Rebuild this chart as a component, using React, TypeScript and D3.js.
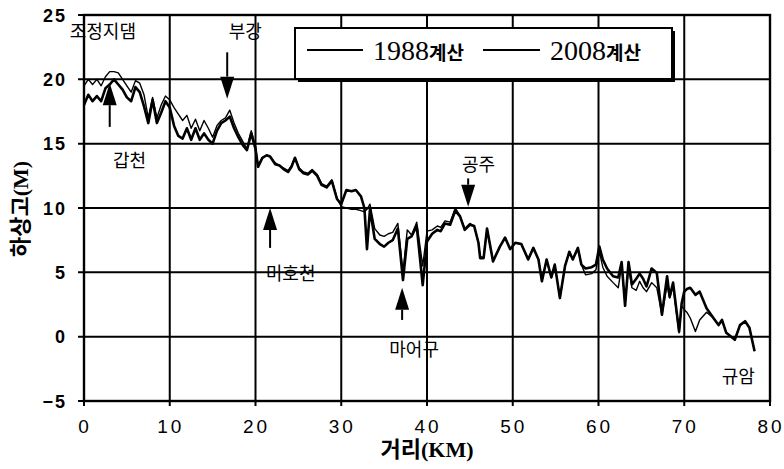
import React from 'react';
import * as d3 from 'd3';

// distance along the river (km)
const distance = [
  0, 0.5, 1, 1.5, 2, 2.5, 3, 3.5, 4, 4.5, 5, 5.5, 6, 6.5, 7, 7.5, 8, 8.5, 9, 9.5,
  10, 10.5, 11, 11.5, 12, 12.5, 13, 13.5, 14, 14.5, 15, 15.5, 16, 16.5, 17, 17.5, 18, 18.5, 19, 19.5,
  20, 20.3, 20.8, 21.3, 21.7, 22.3, 22.8, 23.3, 23.8, 24.2, 24.6, 25.1, 25.6, 26.1, 26.6, 27.2, 27.7, 28.3, 28.9, 29.5,
  30, 30.6, 31.2, 31.7, 32.3, 32.7, 33, 33.35, 33.9, 34.5, 35, 35.5, 36, 36.6, 37.2, 37.7, 38.2, 38.8, 39.5,
  40, 40.6, 41.2, 41.6, 42.1, 42.7, 43.3, 43.85, 44.4, 45, 45.5, 46, 46.2, 46.6, 47, 47.7, 48.5, 49.1, 49.7,
  50.3, 51, 51.8, 52.4, 53, 53.4, 53.95, 54.5, 54.9, 55.5, 56.1, 56.6, 57, 57.6, 58, 58.5, 59.2, 59.7,
  60.1, 60.5, 61, 61.7, 62.3, 62.7, 63.1, 63.5, 63.9, 64.4, 64.8, 65.2, 65.6, 66.2, 66.8, 67.4, 68, 68.3, 68.7, 69.1, 69.4, 69.7,
  70, 70.3, 70.7, 71.3, 71.8, 72.6, 73.4, 74, 74.4, 74.9, 75.9, 76.5, 77.1, 77.6, 78.2,
];

// bed elevation, 1988 calculation (m)
const bed1988 = [
  19.5, 20.0, 19.6, 20.0, 19.5, 20.2, 20.6, 20.6, 20.5, 20.0, 19.5, 19.0, 19.9, 19.7, 18.8, 17.0, 18.6, 17.0, 18.0, 18.7,
  18.4, 17.8, 17.3, 16.8, 17.2, 16.2, 16.9, 16.0, 16.8, 16.2, 15.5, 16.4, 16.8, 17.0, 17.6, 16.6, 15.8, 15.2, 14.6, 16.0,
  14.8, 13.3, 13.9, 14.1, 14.0, 13.5, 13.3, 13.1, 12.9, 13.3, 13.9, 13.1, 12.8, 12.7, 13.0, 12.6, 11.9, 11.7, 12.2, 10.8,
  10.1, 10.0, 9.9, 9.9, 9.8, 9.7, 9.9, 10.3, 8.4, 7.9, 7.8, 8.0, 8.1, 8.8, 5.0, 8.3, 7.9, 8.9, 5.5,
  8.2, 8.3, 8.6, 8.5, 9.0, 8.9, 10.0, 9.4, 8.4, 8.8, 8.6, 7.3, 6.2, 6.2, 8.4, 5.9, 7.0, 7.7, 6.8,
  7.3, 7.15, 6.0, 6.9, 6.0, 4.3, 6.0, 4.6, 5.6, 3.0, 5.5, 6.6, 6.0, 6.9, 5.6, 4.8, 4.9, 5.2,
  6.6, 5.4, 4.7, 4.2, 3.8, 5.5, 2.6, 5.4, 3.8, 3.6, 4.3, 3.8, 3.5, 4.2, 3.8, 1.7, 4.0, 3.0, 3.9, 1.8, 0.3, 2.4,
  2.1, 1.9, 1.45, 0.4, 1.3, 1.9, 1.45, 0.9, 1.3, 0.3, -0.24, 0.9, 1.2, 0.7, -1.13,
];

// bed elevation, 2008 calculation (m)
const bed2008 = [
  18.0, 18.8, 18.3, 18.7, 18.3, 19.3, 19.6, 20.0, 19.6, 19.2, 18.6, 18.3, 19.4, 19.0, 17.9, 16.6, 18.4, 16.6, 17.4, 18.3,
  17.8, 16.4, 15.6, 15.4, 16.2, 15.3, 16.2, 15.3, 15.8, 15.3, 15.0, 16.0, 16.6, 16.8, 17.1, 16.2, 15.5, 14.9, 14.5, 15.8,
  14.6, 13.2, 13.9, 14.1, 14.0, 13.4, 13.3, 13.0, 12.8, 13.2, 13.9, 13.0, 12.7, 12.6, 12.9, 12.5, 11.8, 11.6, 12.1, 10.7,
  10.3, 11.4, 11.3, 11.4, 10.9, 10.0, 6.8, 9.9, 7.6, 7.2, 7.0, 7.3, 7.5, 8.4, 4.4, 7.6, 7.8, 8.6, 4.0,
  7.4, 8.0, 8.3, 8.2, 8.8, 8.7, 9.8, 9.35, 8.3, 8.7, 8.6, 7.3, 6.1, 6.1, 8.4, 5.85, 7.0, 7.7, 6.8,
  7.3, 7.2, 6.0, 6.9, 6.0, 4.3, 6.0, 4.6, 5.6, 3.0, 5.5, 6.6, 6.0, 6.9, 5.6, 5.3, 5.4, 5.6,
  7.0, 6.0, 5.3, 4.7, 4.6, 5.8, 2.4, 5.8, 4.05, 4.5, 4.9, 4.5, 3.9, 5.3, 4.95, 1.7, 4.7, 3.1, 4.2, 2.0, 0.4, 2.6,
  3.5, 3.7, 3.8, 3.25, 3.5, 2.2, 1.45, 0.9, 1.3, 0.3, -0.24, 0.9, 1.2, 0.7, -1.13,
];

const xTicks = [0, 10, 20, 30, 40, 50, 60, 70, 80];
const yTicks = [-5, 0, 5, 10, 15, 20, 25];

// place labels along the river: [name, km, elevation at label]
const placeLabels: [string, number, number][] = [
  ['조정지댐', 2.2, 23.2],
  ['부강', 18.8, 23.2],
  ['갑천', 5.3, 13.2],
  ['미호천', 24.1, 4.4],
  ['공주', 46.0, 12.9],
  ['마어구', 38.5, -1.5],
  ['규암', 76.3, -3.6],
];

// arrows: [km, tip elevation, tail elevation]
const arrows: [number, number, number][] = [
  [16.7, 18.5, 22.1],
  [3.0, 19.7, 16.3],
  [21.7, 10.0, 6.9],
  [44.8, 10.1, 12.3],
  [37.1, 3.8, 1.3],
];

const W = 784;
const H = 469;
const margin = { top: 15, right: 14, bottom: 68, left: 84 };

export default function App() {
  const x = d3.scaleLinear().domain([0, 80]).range([margin.left, W - margin.right]);
  const y = d3.scaleLinear().domain([-5, 25]).range([H - margin.bottom, margin.top]);

  const line = d3
    .line<number>()
    .x((_, i) => x(distance[i]))
    .y((d) => y(d));

  const x0 = x(0), x1 = x(80), y0 = y(-5), y1 = y(25);
  const korean = '"Noto Sans CJK KR", sans-serif';

  return (
    <svg width={W} height={H} style={{ position: 'absolute', left: 0, top: 0, background: '#fff' }}>
      {/* grid */}
      {xTicks.map((t) => (
        <line key={'gx' + t} x1={x(t)} x2={x(t)} y1={y1} y2={y0 + 5} stroke="#000" strokeWidth={2} />
      ))}
      {yTicks.map((t) => (
        <line key={'gy' + t} x1={x0 - 6} x2={x1} y1={y(t)} y2={y(t)} stroke="#000" strokeWidth={2} />
      ))}
      <rect x={x0} y={y1} width={x1 - x0} height={y0 - y1} fill="none" stroke="#000" strokeWidth={2.4} />

      {/* tick labels */}
      {yTicks.map((t) => (
        <text
          key={'ly' + t}
          x={67}
          y={y(t) + 6.5}
          textAnchor="end"
          fontFamily="Liberation Sans, Arial, sans-serif"
          fontWeight="bold"
          fontSize={18}
          letterSpacing={2}
        >
          {t < 0 ? '\u2212' + Math.abs(t) : t}
        </text>
      ))}
      {xTicks.map((t) => (
        <text
          key={'lx' + t}
          x={x(t) + 1}
          y={433}
          textAnchor="middle"
          fontFamily="Liberation Sans, Arial, sans-serif"
          fontSize={19}
          letterSpacing={3}
        >
          {t}
        </text>
      ))}

      {/* axis titles */}
      <text x={427} y={457} textAnchor="middle" fontWeight="bold" fontSize={22}>
        <tspan fontFamily={korean}>거리</tspan>
        <tspan fontFamily="Liberation Serif, serif">(KM)</tspan>
      </text>
      <text
        transform="translate(28,209) rotate(-90)"
        textAnchor="middle"
        fontWeight="bold"
        fontSize={22}
      >
        <tspan fontFamily={korean}>하상고</tspan>
        <tspan fontFamily="Liberation Serif, serif">(M)</tspan>
      </text>

      {/* series */}
      <path d={line(bed1988) ?? ''} fill="none" stroke="#000" strokeWidth={1.4} strokeLinejoin="round" />
      <path d={line(bed2008) ?? ''} fill="none" stroke="#000" strokeWidth={2.6} strokeLinejoin="round" />

      {/* arrows */}
      {arrows.map(([km, tip, tail], i) => {
        const ax = x(km);
        const ty = y(tip);
        const sy = y(tail);
        const dir = sy < ty ? 1 : -1; // 1 = pointing down
        const headLen = 22;
        const hb = ty - dir * headLen;
        return (
          <g key={'ar' + i}>
            <line x1={ax} x2={ax} y1={sy} y2={hb} stroke="#000" strokeWidth={2} />
            <path d={`M${ax - 7},${hb} L${ax + 7},${hb} L${ax},${ty} Z`} fill="#000" />
          </g>
        );
      })}

      {/* place names */}
      {placeLabels.map(([name, km, v]) => (
        <text key={name} x={x(km)} y={y(v)} textAnchor="middle" fontFamily={korean} fontSize={18}>
          {name}
        </text>
      ))}

      {/* legend */}
      <rect x={298} y={31} width={377} height={51} fill="#000" />
      <rect x={295} y={28} width={377} height={51} fill="#fff" stroke="#000" strokeWidth={2} />
      <line x1={307} x2={363} y1={50} y2={50} stroke="#000" strokeWidth={2} />
      <text x={373} y={60}>
        <tspan fontFamily="Liberation Serif, serif" fontSize={28}>1988</tspan>
        <tspan fontFamily={korean} fontWeight="bold" fontSize={19}>계산</tspan>
      </text>
      <line x1={483} x2={540} y1={50} y2={50} stroke="#000" strokeWidth={2} />
      <text x={550} y={60}>
        <tspan fontFamily="Liberation Serif, serif" fontSize={28}>2008</tspan>
        <tspan fontFamily={korean} fontWeight="bold" fontSize={19}>계산</tspan>
      </text>
    </svg>
  );
}
